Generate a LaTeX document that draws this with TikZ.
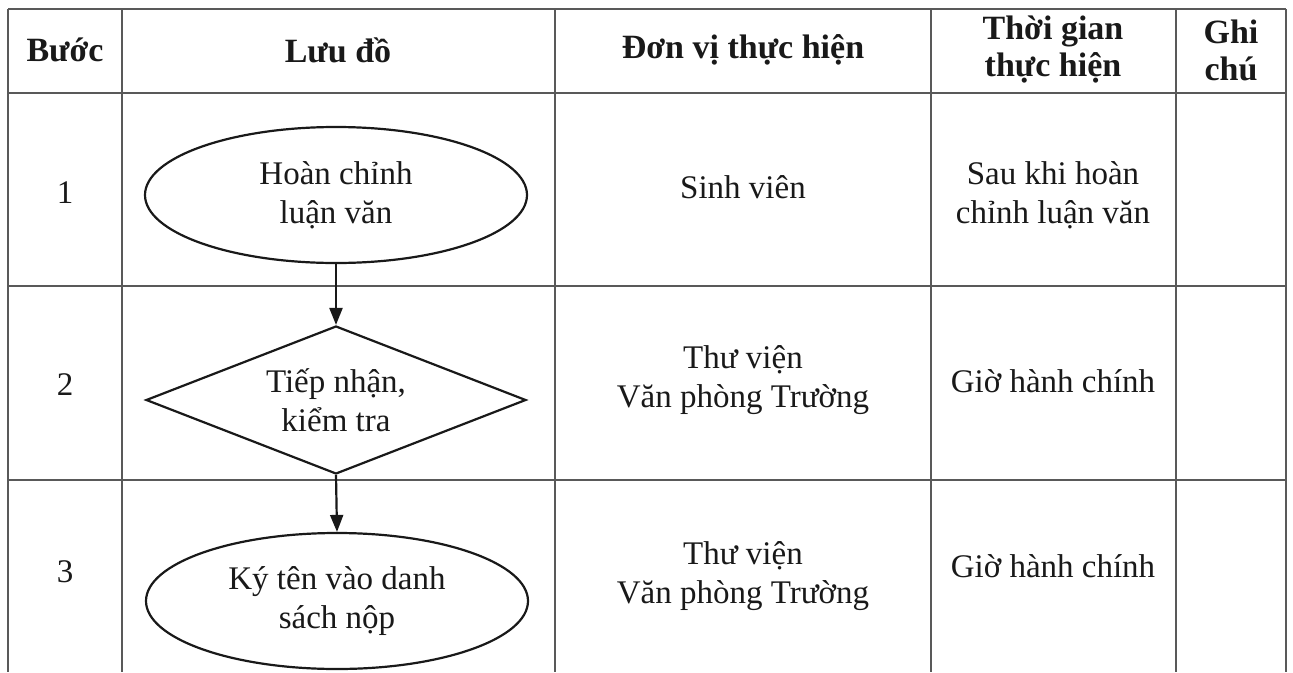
\documentclass[tikz,border=0pt]{standalone}
\usepackage{fontspec}
\setmainfont{Liberation Serif}
\usetikzlibrary{shapes.geometric,arrows.meta}
\begin{document}
\begin{tikzpicture}[x=1pt,y=-1pt,
  grid/.style={draw=black!65, line width=1.1pt},
  txt/.style={font=\fontsize{33}{39}\selectfont, align=center, inner sep=0pt, text=black!90},
  head/.style={align=center, inner sep=0pt, text=black!90, font=\fontsize{34}{37}\selectfont\bfseries},
  term/.style={ellipse, draw=black!90, line width=2.2pt, minimum width=382pt, minimum height=136pt, inner sep=0pt, txt},
  decide/.style={diamond, draw=black!90, line width=2.2pt, minimum width=380pt, minimum height=148pt, aspect=2.57, inner sep=0pt, txt},
  flow/.style={draw=black!90, line width=2.2pt, -{Triangle[length=17pt,width=13pt]}}
]
\useasboundingbox (0,0) rectangle (1293,672);
\fill[white] (0,0) rectangle (1293,672);
% table grid
\draw[grid] (8,9) -- (1286,9);
\draw[grid] (8,93) -- (1286,93);
\draw[grid] (8,286) -- (1286,286);
\draw[grid] (8,480) -- (1286,480);
\foreach \x in {8,122,555,931,1176,1286} \draw[grid] (\x,9) -- (\x,672);
% header
\node[head] (hbuoc) at (65,50) {Bước};
\node[head] (hluudo) at (338,50) {Lưu đồ};
\node[head] (hdonvi) at (743,50) {Đơn vị thực hiện};
\node[head] (hthoigian) at (1053,50) {Thời gian\\thực hiện};
\node[head] (hghichu) at (1231,50) {Ghi\\chú};
% step numbers
\node[txt] (n1) at (65,193) {1};
\node[txt] (n2) at (65,385) {2};
\node[txt] (n3) at (65,572) {3};
% flowchart
\node[term] (e1) at (336,195) {Hoàn chỉnh\\luận văn};
\node[decide] (d2) at (336,400) {Tiếp nhận,\\kiểm tra};
\node[term] (e3) at (337,601) {Ký tên vào danh\\sách nộp};
\draw[flow] (e1.south) -- (d2.north);
\draw[flow] (d2.south) -- (e3.north);
% unit column
\node[txt] (u1) at (743,187) {Sinh viên};
\node[txt] (u2) at (743,380) {Thư viện\\Văn phòng Trường};
\node[txt] (u3) at (743,576) {Thư viện\\Văn phòng Trường};
% time column
\node[txt] (t1) at (1053,195) {Sau khi hoàn\\chỉnh luận văn};
\node[txt] (t2) at (1053,381) {Giờ hành chính};
\node[txt] (t3) at (1053,566) {Giờ hành chính};
\end{tikzpicture}
\end{document}
